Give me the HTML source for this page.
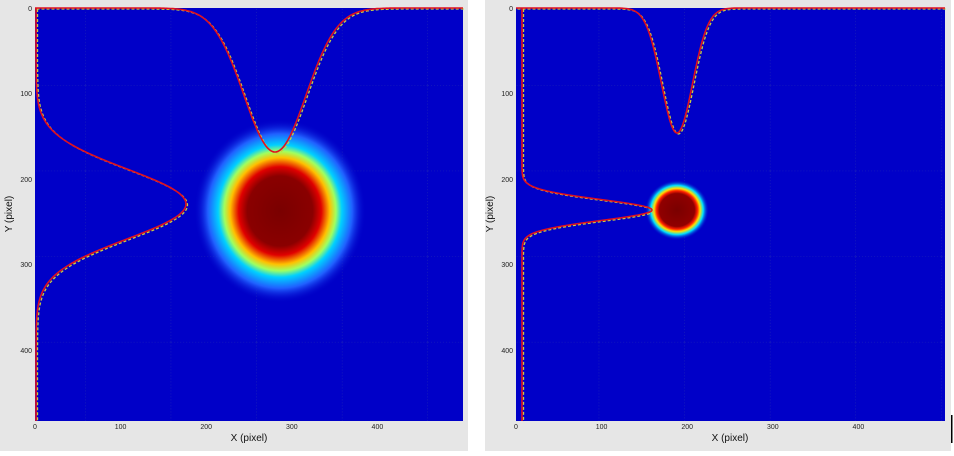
<!DOCTYPE html>
<html><head><style>
body{margin:0;width:954px;height:451px;background:#fff;overflow:hidden;font-family:"Liberation Sans",sans-serif}
</style></head><body>
<svg width="954" height="451" xmlns="http://www.w3.org/2000/svg" font-family="Liberation Sans, sans-serif">
<defs>
<radialGradient id="b1" cx="0.5" cy="0.5" r="0.5">
<stop offset="0" stop-color="#7a0000"/><stop offset="0.38" stop-color="#8a0000"/>
<stop offset="0.48" stop-color="#e00000"/><stop offset="0.58" stop-color="#ffc000"/>
<stop offset="0.65" stop-color="#a0ff60"/><stop offset="0.72" stop-color="#00d0ff"/>
<stop offset="0.84" stop-color="#2060ff"/><stop offset="1" stop-color="#0000c8" stop-opacity="0"/>
</radialGradient>
<radialGradient id="b2" cx="0.5" cy="0.5" r="0.5">
<stop offset="0" stop-color="#7a0000"/><stop offset="0.55" stop-color="#900000"/>
<stop offset="0.64" stop-color="#ff2000"/><stop offset="0.72" stop-color="#ffe000"/>
<stop offset="0.82" stop-color="#00e0ff"/><stop offset="1" stop-color="#0000c8" stop-opacity="0"/>
</radialGradient>
<pattern id="g" width="85.6" height="85.6" patternUnits="userSpaceOnUse">
<path d="M85.6 0V85.6M0 85.6H85.6" stroke="#4050a0" stroke-width="0.6" stroke-dasharray="1 2" fill="none"/>
</pattern>
</defs>
<rect x="0" y="0" width="468" height="451" fill="#e6e6e6"/>
<rect x="485" y="0" width="466" height="451" fill="#e6e6e6"/>
<rect x="35" y="8" width="428" height="413" fill="#0000c8"/>
<rect x="516" y="8" width="429" height="413" fill="#0000c8"/>
<rect x="35" y="8" width="428" height="413" fill="url(#g)"/>
<rect x="516" y="8" width="429" height="413" fill="url(#g)"/>
<ellipse cx="280" cy="211" rx="86" ry="92" fill="url(#b1)"/>
<ellipse cx="677" cy="210" rx="32" ry="30" fill="url(#b2)"/>
<g id="curves"></g>
<g font-size="7" fill="#222">
<text x="35" y="429" text-anchor="middle">0</text><text x="120.6" y="429" text-anchor="middle">100</text><text x="206.2" y="429" text-anchor="middle">200</text><text x="291.8" y="429" text-anchor="middle">300</text><text x="377.4" y="429" text-anchor="middle">400</text>
<text x="32" y="11" text-anchor="end">0</text><text x="32" y="96" text-anchor="end">100</text><text x="32" y="182" text-anchor="end">200</text><text x="32" y="267" text-anchor="end">300</text><text x="32" y="353" text-anchor="end">400</text>
<text x="516" y="429" text-anchor="middle">0</text><text x="601.6" y="429" text-anchor="middle">100</text><text x="687.2" y="429" text-anchor="middle">200</text><text x="772.8" y="429" text-anchor="middle">300</text><text x="858.4" y="429" text-anchor="middle">400</text>
<text x="513" y="11" text-anchor="end">0</text><text x="513" y="96" text-anchor="end">100</text><text x="513" y="182" text-anchor="end">200</text><text x="513" y="267" text-anchor="end">300</text><text x="513" y="353" text-anchor="end">400</text>
</g>
<g font-size="10" fill="#111">
<text x="249" y="441" text-anchor="middle">X (pixel)</text>
<text x="730" y="441" text-anchor="middle">X (pixel)</text>
<text transform="translate(12,214) rotate(-90)" text-anchor="middle">Y (pixel)</text>
<text transform="translate(493,214) rotate(-90)" text-anchor="middle">Y (pixel)</text>
</g>
<rect x="951" y="415" width="1.5" height="28" fill="#000"/>
</svg>
<script>
function hProf(x0,x1,c,a,s,y0){var d='';for(var x=x0;x<=x1;x+=1){d+=(d?'L':'M')+x+' '+(y0+a*Math.exp(-((x-c)*(x-c))/(2*s*s))).toFixed(1)}return d}
function vProf(y0,y1,c,a,s,x0){var d='';for(var y=y0;y<=y1;y+=1){d+=(d?'L':'M')+(x0+a*Math.exp(-((y-c)*(y-c))/(2*s*s))).toFixed(1)+' '+y}return d}
var P=[hProf(35,463,275,144,31,8),vProf(8,421,204,150,35,36),hProf(516,945,677,125,15.5,8),vProf(8,421,210,130,10.5,522)];
var NS='http://www.w3.org/2000/svg',G=document.getElementById('curves');
P.forEach(function(d){
 var a=document.createElementNS(NS,'path');a.setAttribute('d',d);a.setAttribute('fill','none');a.setAttribute('stroke','#c8d040');a.setAttribute('stroke-width','1.3');a.setAttribute('stroke-dasharray','3 2');a.setAttribute('transform','translate(1.5,1)');G.appendChild(a);
 var b=document.createElementNS(NS,'path');b.setAttribute('d',d);b.setAttribute('fill','none');b.setAttribute('stroke','#e01020');b.setAttribute('stroke-width','1.6');G.appendChild(b);
});
</script>
</body></html>
